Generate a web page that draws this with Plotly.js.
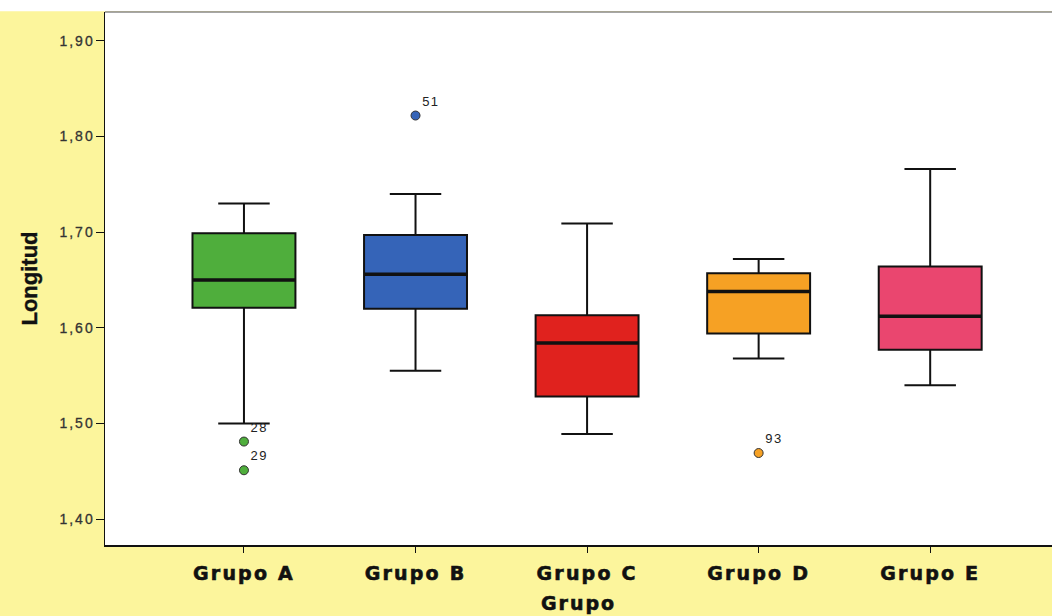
<!DOCTYPE html>
<html>
<head>
<meta charset="utf-8">
<script src="https://cdn.plot.ly/plotly-3.0.1.min.js"></script>
<style>
html,body{margin:0;padding:0;background:#fff;}
#chart{width:1052px;height:616px;}
#chart .xtick text{letter-spacing:2.2px;stroke:#111;stroke-width:0.6px;}
#chart .g-xtitle text{letter-spacing:2px;stroke:#111;stroke-width:0.6px;}
#chart .g-ytitle text{stroke:#111;stroke-width:0.4px;}
#chart .ytick text{letter-spacing:2px;stroke:#333;stroke-width:0.3px;}
#chart .textpoint text{letter-spacing:1.5px;}
</style>
</head>
<body>
<div id="chart"></div>
<script>
// Data
const categories = ["Grupo A", "Grupo B", "Grupo C", "Grupo D", "Grupo E"];
const lowerWhisker = [1.50, 1.555, 1.489, 1.568, 1.540];
const q1Values     = [1.621, 1.620, 1.528, 1.594, 1.577];
const medianValues = [1.650, 1.656, 1.584, 1.638, 1.612];
const q3Values     = [1.699, 1.697, 1.613, 1.657, 1.664];
const upperWhisker = [1.730, 1.740, 1.709, 1.672, 1.766];
const boxColors    = ["#4fae3c", "#3564b8", "#e0221e", "#f6a124", "#ea466f"];

// Outliers (group, value, case label)
const outlierGroups = ["Grupo A", "Grupo A", "Grupo B", "Grupo D"];
const outlierValues = [1.481, 1.451, 1.822, 1.469];
const outlierLabels = ["28", "29", "51", "93"];
const outlierColors = ["#4fae3c", "#4fae3c", "#3564b8", "#f6a124"];

const yTicks = [1.40, 1.50, 1.60, 1.70, 1.80, 1.90];

const FONT = "Liberation Sans, Arial, sans-serif";
const WIDE = "DejaVu Sans, Liberation Sans, Arial, sans-serif";

const traces = categories.map((c, i) => ({
  type: "box",
  x: [c],
  q1: [q1Values[i]],
  median: [medianValues[i]],
  q3: [q3Values[i]],
  lowerfence: [lowerWhisker[i]],
  upperfence: [upperWhisker[i]],
  fillcolor: boxColors[i],
  line: {color: "#111", width: 2},
  whiskerwidth: 0.5,
  width: 0.6,
  hoverinfo: "skip",
  showlegend: false
}));

// thicker median lines (zero-height boxes at the median)
categories.forEach((c, i) => traces.push({
  type: "box",
  x: [c],
  q1: [medianValues[i]],
  median: [medianValues[i]],
  q3: [medianValues[i]],
  lowerfence: [medianValues[i]],
  upperfence: [medianValues[i]],
  fillcolor: "rgba(0,0,0,0)",
  line: {color: "#111", width: 3.5},
  whiskerwidth: 0,
  width: 0.6,
  hoverinfo: "skip",
  showlegend: false
}));

traces.push({
  type: "scatter",
  mode: "markers+text",
  x: outlierGroups,
  y: outlierValues,
  text: outlierLabels,
  textposition: "top right",
  textfont: {family: FONT, size: 13, color: "#222"},
  marker: {size: 9, color: outlierColors, line: {color: "#333", width: 1}},
  cliponaxis: false,
  showlegend: false,
  hoverinfo: "skip"
});

const layout = {
  width: 1052,
  height: 616,
  margin: {l: 105, r: 0, t: 12, b: 71},
  paper_bgcolor: "#fcf59c",
  plot_bgcolor: "#ffffff",
  separators: ",.",
  showlegend: false,
  boxmode: "overlay",
  font: {family: FONT, color: "#222"},
  xaxis: {
    type: "category",
    categoryorder: "array",
    categoryarray: categories,
    range: [-0.81, 4.71],
    showgrid: false,
    zeroline: false,
    showline: true,
    linecolor: "#111",
    linewidth: 1.5,
    ticks: "outside",
    ticklen: 6,
    tickcolor: "#111",
    ticklabelstandoff: 5,
    tickfont: {family: WIDE, size: 19, color: "#111", weight: "bold"},
    title: {text: "Grupo", font: {family: WIDE, size: 19, color: "#111", weight: "bold"}, standoff: 13}
  },
  yaxis: {
    range: [1.3728, 1.9303],
    tickvals: yTicks,
    tickformat: ".2f",
    showgrid: false,
    zeroline: false,
    showline: true,
    linecolor: "#111",
    linewidth: 1.5,
    ticks: "outside",
    ticklen: 8,
    tickcolor: "#111",
    ticklabelstandoff: -2,
    tickfont: {family: FONT, size: 14, color: "#333"},
    title: {text: "Longitud", font: {family: FONT, size: 22, color: "#111", weight: "bold"}, standoff: 24}
  },
  shapes: [
    {type: "line", xref: "paper", yref: "paper", x0: 0, x1: 1, y0: 1, y1: 1, line: {color: "#888", width: 1.5}},
    {type: "rect", xref: "paper", yref: "paper", x0: -0.2, x1: 1.1, y0: 1.0015, y1: 1.05, fillcolor: "#ffffff", line: {width: 0}, layer: "below"}
  ]
};

Plotly.newPlot("chart", traces, layout, {staticPlot: true, displayModeBar: false});
</script>
</body>
</html>
